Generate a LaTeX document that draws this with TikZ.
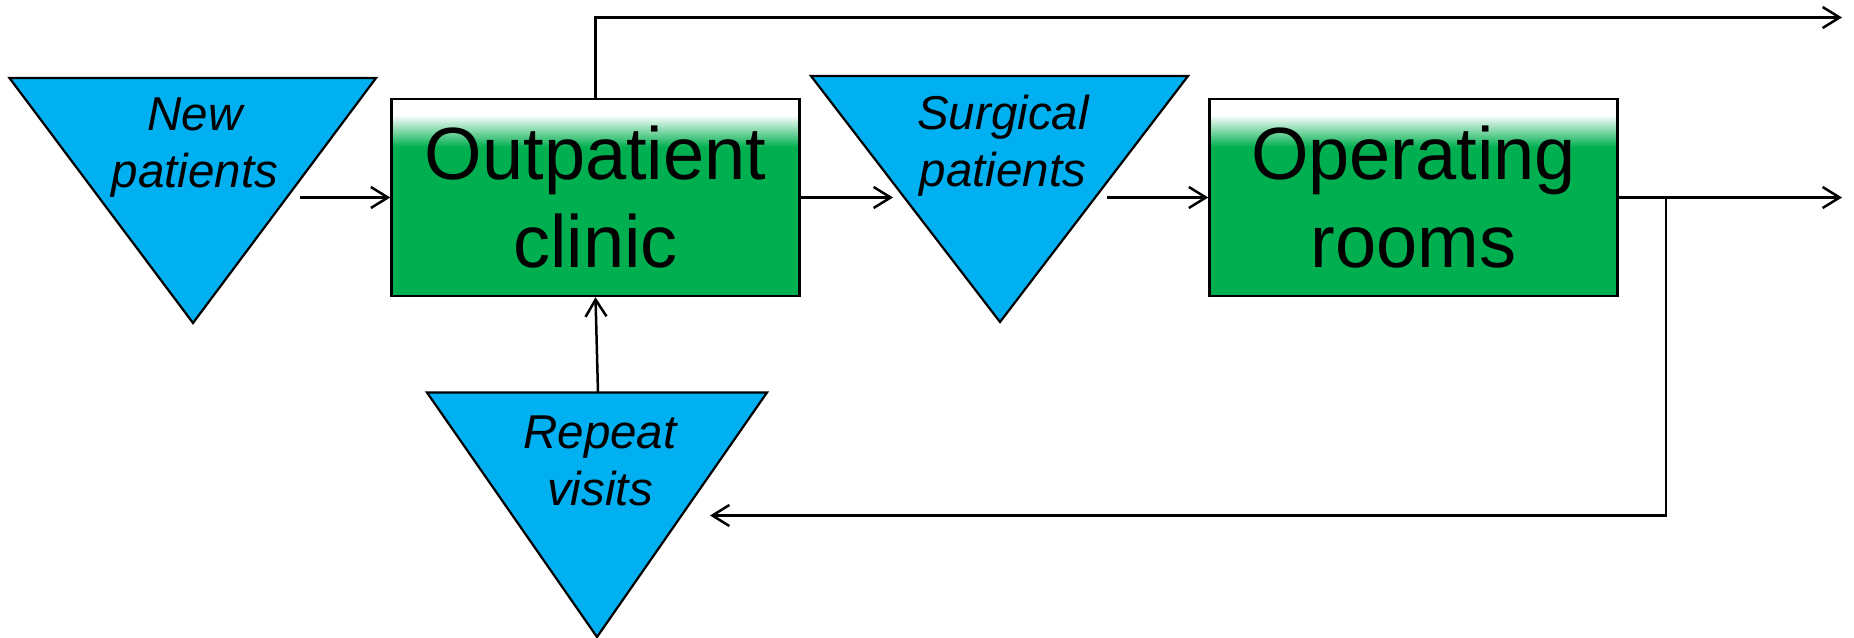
\documentclass[tikz,border=0pt]{standalone}
\usepackage{fontspec}
\setmainfont{Liberation Sans}
\usetikzlibrary{arrows.meta}
\definecolor{boxgreen}{HTML}{00B050}
\definecolor{srcblue}{HTML}{00B0F0}
\begin{document}
\begin{tikzpicture}[x=1pt,y=-1pt,
  flow/.style={line width=2.5pt,-{Straight Barb[length=17pt,width=21pt]}},
  stage/.style={draw,line width=2.5pt,fill=boxgreen,minimum width=408pt,minimum height=197pt,
    inner sep=0pt,align=center,font=\fontsize{74}{88}\selectfont,
    path picture={
      \fill[white] (path picture bounding box.north west) rectangle ([yshift=-16pt]path picture bounding box.north east);
      \shade[top color=white,bottom color=boxgreen] ([yshift=-16pt]path picture bounding box.north west) rectangle ([yshift=-48pt]path picture bounding box.north east);
    }},
  buffer/.style={draw,line width=2.2pt,fill=srcblue},
  lbl/.style={font=\fontsize{47.5}{57}\selectfont\itshape,align=center,anchor=base,inner sep=0pt}]
\useasboundingbox (0,0) rectangle (1854,637);

% inventory buffers (downward triangles)
\filldraw[buffer] (9.5,78) -- (376,78) -- (193,323) -- cycle;
\filldraw[buffer] (811,76) -- (1188,76) -- (1000,322) -- cycle;
\filldraw[buffer] (427,392.5) -- (767,392.5) -- (597,637) -- cycle;

% labels are placed by the baseline of their last line
\node[lbl] (newlbl) at (195,187) {New\\patients};
\node[lbl] (surglbl) at (1003,186) {Surgical\\patients};
\node[lbl] (replbl) at (600,505) {Repeat\\visits};

% process stages
\node[stage] (clinic) at (595.5,197.5) {Outpatient\\clinic};
\node[stage] (theatre) at (1413.5,197.5) {Operating\\rooms};

% flows
\coordinate (newout) at (300,197.5);
\coordinate (surgin) at (893,197.5);
\coordinate (surgout) at (1107,197.5);
\coordinate (exitmain) at (1842,197.5);
\coordinate (exittop) at (1842,17.5);
\coordinate (split) at (1666,197.5);
\coordinate (repin) at (710,515.5);
\coordinate (reptop) at (598,392.5);

\draw[flow] (newout) -- (clinic.west);
\draw[flow] (clinic.east) -- (surgin);
\draw[flow] (surgout) -- (theatre.west);
\draw[flow] (theatre.east) -- (exitmain);
\draw[flow] (clinic.north) |- (exittop);
\draw[flow] (split) |- (repin);
\draw[flow] (reptop) -- (clinic.south);
\end{tikzpicture}
\end{document}
